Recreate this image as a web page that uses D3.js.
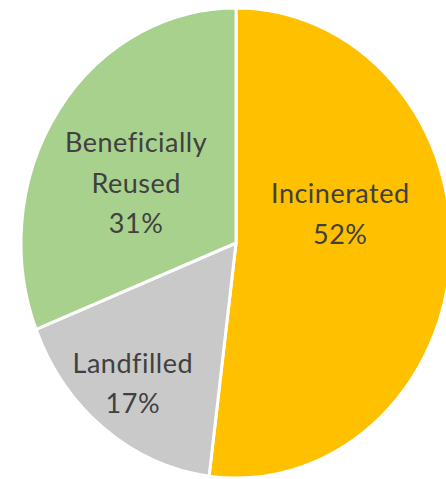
<!DOCTYPE html>
<html><head><meta charset="utf-8">
<script src="https://cdn.jsdelivr.net/npm/d3@7"></script>
<style>html,body{margin:0;padding:0;background:#fff;}svg{display:block;}</style>
</head><body>
<svg id="chart" width="446" height="479"></svg>
<script>
// Data
const categories = ["Incinerated", "Landfilled", "Beneficially Reused"];
const labelLines = [["Incinerated"], ["Landfilled"], ["Beneficially", "Reused"]];
const values = [52, 17, 31];
const colors = ["#FFC000", "#C9C9C9", "#A9D18E"];

// Layout (styling only)
const W = 446, H = 479;
const cx = 236, cy = 243, rx = 215, ry = 235;
const labelK = [0.5, 0.76, 0.5];
const labelNudgeX = [-3, -3, -11];
const labelNudgeY = [-36, 0, 7];
const lineH = 40.5;

const svg = d3.select("#chart");
const data = categories.map((c, i) => ({cat: c, value: values[i], color: colors[i], lines: labelLines[i], i}));

const pie = d3.pie().value(d => d.value).sort(null);
const arcs = pie(data);
const arc = d3.arc().innerRadius(0).outerRadius(1);

const g = svg.append("g").attr("transform", `translate(${cx},${cy}) scale(${rx},${ry})`);
g.selectAll("path").data(arcs).join("path")
  .attr("d", arc)
  .attr("fill", d => d.data.color)
  .attr("stroke", "#fff")
  .attr("stroke-width", 3)
  .attr("vector-effect", "non-scaling-stroke")
  .attr("stroke-linejoin", "round");

const fmt = d3.format(".0%");
const total = d3.sum(values);
const labels = svg.append("g");
arcs.forEach(a => {
  const i = a.data.i;
  const la = d3.arc().innerRadius(0).outerRadius(2 * labelK[i]);
  const [ux, uy] = la.centroid(a);
  const x = cx + ux * rx + labelNudgeX[i];
  const y = cy + uy * ry + labelNudgeY[i];
  const lines = a.data.lines.concat([fmt(a.data.value / total)]);
  const n = lines.length;
  const t = labels.append("text")
    .attr("text-anchor", "middle")
    .attr("font-family", "Lato, 'Open Sans', sans-serif")
    .attr("font-size", 27)
    .attr("letter-spacing", 0.5)
    .attr("fill", "#404040");
  lines.forEach((s, j) => {
    t.append("tspan")
      .attr("x", x)
      .attr("y", y + (j - (n - 1) / 2) * lineH + 9)
      .text(s);
  });
});
</script>
</body></html>
